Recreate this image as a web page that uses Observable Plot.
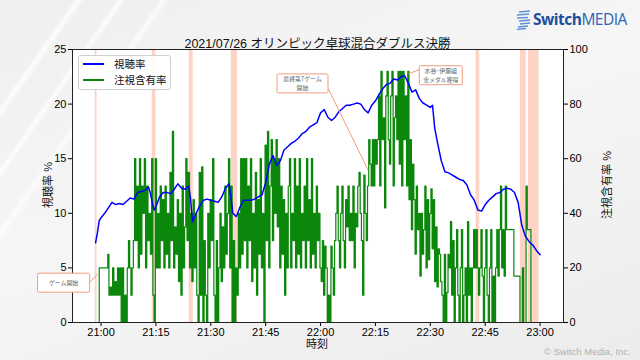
<!DOCTYPE html>
<html><head><meta charset="utf-8">
<script src="https://cdn.jsdelivr.net/npm/d3@7"></script>
<script src="https://cdn.jsdelivr.net/npm/@observablehq/plot@0.6"></script>
<style>
html,body{margin:0;padding:0;}
body{width:640px;height:360px;overflow:hidden;position:relative;
 font-family:"Liberation Sans","Noto Sans CJK JP",sans-serif;
 background:
  linear-gradient(125deg, rgba(255,255,255,0) 0px, rgba(255,255,255,0) 60px, rgba(255,255,255,0.85) 64px, rgba(255,255,255,0) 70px, rgba(255,255,255,0) 95px, rgba(255,255,255,0.8) 99px, rgba(255,255,255,0) 104px, rgba(255,255,255,0) 130px, rgba(255,255,255,0.7) 134px, rgba(255,255,255,0) 140px),
  linear-gradient(160deg, #efefef 0%, #f6f6f6 45%, #ececec 100%);}
#chart{position:absolute;left:0;top:0;}
.ov{position:absolute;white-space:nowrap;color:#111;}
</style></head><body>
<div id="chart"></div>
<div class="ov" id="title" style="left:0;width:635px;top:33px;text-align:center;font-size:12.5px;">2021/07/26 オリンピック卓球混合ダブルス決勝</div>
<div class="ov" style="left:47px;top:185px;font-size:11px;transform:translate(-50%,-50%) rotate(-90deg);">視聴率 %</div>
<div class="ov" style="left:606px;top:185px;font-size:11px;transform:translate(-50%,-50%) rotate(-90deg);">注視含有率 %</div>
<div class="ov" style="left:317px;top:343px;font-size:11px;transform:translate(-50%,-50%);">時刻</div>
<div class="ov" style="left:78px;top:55px;width:91px;height:33px;background:rgba(255,255,255,0.9);border:1px solid #d0d0d0;border-radius:3px;font-size:10.5px;">
  <div style="position:absolute;left:4px;top:7px;width:21px;height:1.6px;background:#0000ff;"></div>
  <div style="position:absolute;left:35px;top:0px;">視聴率</div>
  <div style="position:absolute;left:4px;top:23px;width:21px;height:1.6px;background:#0b870b;"></div>
  <div style="position:absolute;left:35px;top:16px;">注視含有率</div>
</div>
<div class="ov" style="left:515px;top:8px;">
  <svg width="17" height="21" style="position:absolute;left:0;top:1px;">
    <g stroke="#5b8fd6" stroke-width="1.3" fill="none">
      <path d="M4 3 L15 2"/><path d="M2 6 L14 5"/><path d="M2 9 L13 8.5"/><path d="M4 12 L15 11"/><path d="M5 15 L15 14"/><path d="M3 18 L13 17"/><path d="M2 20.5 L11 19.5"/>
    </g>
  </svg>
  <div style="position:absolute;left:18px;top:0px;font-size:15.5px;letter-spacing:-0.5px;font-family:'Open Sans','Liberation Sans',sans-serif;"><span style="font-weight:700;color:#1e4f9c;">Switch</span><span style="color:#2c64b4;">MEDIA</span></div>
</div>
<div class="ov" style="left:544px;top:346px;font-size:9.5px;color:#b0b0b0;">© Switch Media, Inc.</div>
<script>
// 視聴率 (%), minutes relative to 21:00
const viewMinutes = [-1.5,-1,-0.5,0,1,2,3,4,5,6,7,8,9,10,11,12,13,13.5,14,14.5,15,16,17,18,19,20,21,22,23,24,24.5,25,26,27,28,29,30,31,32,33,34,35,35.5,36,37,38,39,40,41,42,43,44,45,46,47,48,49,50,51,52,53,54,55,56,57,58,59,60,61,62,63,64,65,66,67,68,69,70,71,72,73,74,75,76,77,78,79,80,81,82,83,84,85,86,87,88,89,90,90.6,91.2,92,93,94,95,96,97,98,99,100,101,102,103,104,105,106,107,108,109,110,111,112,113,114,115,116,117,118,119,120];
const viewRate = [7.3,8.2,9.3,9.6,10.0,10.5,11.0,10.8,10.9,10.8,11.1,11.4,11.3,11.9,12.0,12.1,12.4,11.8,11.0,10.3,10.6,11.5,11.9,11.9,11.8,12.2,12.7,12.3,12.2,12.5,11.2,9.2,10.0,10.7,11.2,11.3,11.2,11.1,11.0,11.5,12.3,12.7,11.5,10.0,9.7,10.6,11.2,11.2,11.2,11.3,11.5,11.7,12.8,14.5,15.3,14.4,14.8,15.8,16.1,16.4,16.6,16.9,17.3,17.5,17.9,18.1,18.3,19.2,19.5,18.8,18.5,18.8,19.3,19.6,19.9,19.9,20.0,20.1,20.0,19.5,19.2,19.9,20.3,20.9,21.4,21.8,21.9,22.3,22.2,22.5,22.6,21.9,21.1,21.3,20.5,20.1,19.9,19.7,19.9,17.8,16.4,14.8,13.8,13.7,13.5,13.3,13.1,13.0,12.6,11.7,11.2,10.3,10.2,10.8,11.2,11.5,11.8,11.9,12.2,12.3,12.2,11.9,11.0,8.9,7.9,7.4,7.1,6.6,6.2];

// 注視含有率 (%), one value every 20 seconds from 20:58:30
const attentionStart = "20:58:30";
const attentionStepSeconds = 20;
const attentionRate = [
0,0,0, 20,20,20, 20,20,20, 20,25,10, 13,10,20, 10,15,10, 20,10,20, 0,20,0, 10,0,20, 30,20,10,
20,30,60, 30,50,20, 60,25,50, 40,60,20, 50,30,40, 25,60,10, 0,60,20, 40,20,50, 30,45,20, 50,25,40,
20,55,30, 70,20,35, 25,45,15, 40,10,50, 20,35,60, 30,55,20, 40,15,45, 20,40,10, 0,55,10, 57,0,30,
10,0,40, 20,45,30, 60,10,0, 30,0,20, 40,15,35, 20,50,25, 40,60,20, 50,0,30, 0,20,10, 40,20,60,
25,60,30, 60,20,50, 30,60,15, 40,20,55, 10,45,25, 60,20,40, 0,65,30, 70,20,50, 67,30,60, 40,67,35,
60,20,50, 25,45,10, 40,20,50, 60,20,40, 30,60,20, 50,25,60, 20,40,30, 50,20,60, 30,45,20, 60,25,40,
20,50,30, 40,20,15, 30,10,28, 20,0,10, 0,28,20, 10,30,40, 50,30,20, 40,50,30, 20,45,35, 50,30,40,
30,50,20, 40,35,50, 55,40,30, 10,54,40, 30,50,67, 58,50,67, 50,67,58, 67,83,50, 92,67,75, 42,83,92,
67,58,83, 92,50,75, 83,67,92, 58,92,50, 92,67,83, 50,92,45, 67,34,58, 45,25,50, 34,40,17, 40,25,34,
50,20,45, 23,40,49, 27,45,15, 35,13,27, 25,15,10, 0,25,0, 11,25,20, 37,10,30, 0,20,34, 10,0,20,
34,0,10, 20,0,37, 10,20,0, 20,34,20, 34,20,10, 20,34,17, 0,20,34, 10,0,20, 34,0,17, 0,20,34,
17,34,50, 20,34,17, 50,34,34, 34,34,34, 34,17,17, 17,17,17, 0,0,20, 0,0,50, 34,34,34, 0,0,0,
0,0,0, 0,0
];

const timeTicks = ["21:00","21:15","21:30","21:45","22:00","22:15","22:30","22:45","23:00"];
const leftTicks = [0,5,10,15,20,25];
const rightTicks = [0,20,40,60,80,100];
const spanStarts = ["20:58:24","21:14:00","21:24:06","21:35:36","22:42:30","22:54:36","22:56:48"];
const spanEnds   = ["20:58:54","21:15:00","21:25:12","21:37:18","22:43:30","22:56:12","22:59:42"];

const annotationTexts = [["ゲーム開始"], ["最終第7ゲーム","開始"], ["水谷･伊藤組","金メダル獲得"]];
const annotationTargets = ["20:59:12", "22:13:09", "22:24:06"];
const annotationTargetValues = [4.4, 13.9, 22.7];
const annotationBoxTimes = ["20:49:54", "21:55:12", "22:33:00"];
const annotationBoxValues = [3.6, 21.85, 22.6];

const day = [2021, 6, 26];
const parseClock = s => { const [h, m, sec = 0] = s.split(":").map(Number); return new Date(day[0], day[1], day[2], h, m, sec); };
const base = parseClock("21:00");
const fromMinutes = m => new Date(base.getTime() + m * 60000);

const viewData = viewMinutes.map((m, i) => ({time: fromMinutes(m), value: viewRate[i]}));
const attStart = parseClock(attentionStart);
const attData = attentionRate.map((v, i) => ({time: new Date(attStart.getTime() + i * attentionStepSeconds * 1000), value: v}));
const spanData = spanStarts.map((s, i) => ({start: parseClock(s), end: parseClock(spanEnds[i])}));
const tickDates = timeTicks.map(parseClock);

const chart = Plot.plot({
  width: 640, height: 360,
  marginLeft: 72, marginRight: 77, marginTop: 49, marginBottom: 38,
  style: {background: "transparent", fontSize: "11px", fontFamily: "'Liberation Sans','Noto Sans CJK JP',sans-serif", color: "#000", overflow: "visible"},
  x: {type: "time", domain: [fromMinutes(-7.8), fromMinutes(126.4)], axis: null},
  y: {domain: [0, 25], axis: null},
  marks: [
    Plot.frame({fill: "white", stroke: "none"}),
    Plot.rect(spanData, {x1: "start", x2: "end", y1: 0, y2: 25, fill: "#fcd3c4"}),
    Plot.line(attData, {x: "time", y: d => d.value / 4, curve: "step-after", stroke: "#0b870b", strokeWidth: 1.2}),
    Plot.line(viewData, {x: "time", y: "value", stroke: "#0000ff", strokeWidth: 1.5}),
    Plot.axisX(tickDates, {tickFormat: d3.timeFormat("%H:%M"), tickSize: 4, tickPadding: 2, label: null}),
    Plot.axisY(leftTicks, {anchor: "left", tickSize: 4, tickPadding: 2, label: null}),
    Plot.axisY(rightTicks.map(v => v / 4), {anchor: "right", tickSize: 4, tickPadding: 2, tickFormat: d => String(d * 4), label: null}),
    Plot.frame({stroke: "#222", strokeWidth: 1})
  ]
});
document.getElementById("chart").appendChild(chart);

// annotations positioned through the chart's scales
const sx = chart.scale("x"), sy = chart.scale("y");
const svg = d3.select(chart);
const g = svg.append("g").attr("font-family", "'Noto Sans CJK JP',sans-serif");
const boxW = [52, 51, 43], boxH = 19;
const anchors = [[1, 0.5], [1, 0.75], [0, 0.2]];
annotationTexts.forEach((lines, i) => {
  const cx = sx.apply(parseClock(annotationBoxTimes[i]));
  const cy = sy.apply(annotationBoxValues[i]);
  const tx = sx.apply(parseClock(annotationTargets[i]));
  const ty = sy.apply(annotationTargetValues[i]);
  const x0 = cx - boxW[i] / 2, y0 = cy - boxH / 2;
  g.append("line")
    .attr("x1", x0 + anchors[i][0] * boxW[i]).attr("y1", y0 + anchors[i][1] * boxH)
    .attr("x2", tx).attr("y2", ty)
    .attr("stroke", "#ef9c7c").attr("stroke-width", 1);
  g.append("rect").attr("x", x0).attr("y", y0).attr("width", boxW[i]).attr("height", boxH)
    .attr("rx", 1.5).attr("fill", "white").attr("stroke", "#ef9c7c").attr("stroke-width", 1);
  const n = lines.length;
  lines.forEach((l, j) => {
    g.append("text").attr("x", cx).attr("y", cy + (j - (n - 1) / 2) * 8.6 + 2.1)
      .attr("text-anchor", "middle").attr("fill", "#666").attr("font-size", 5.9).text(l);
  });
});
</script>
</body></html>
